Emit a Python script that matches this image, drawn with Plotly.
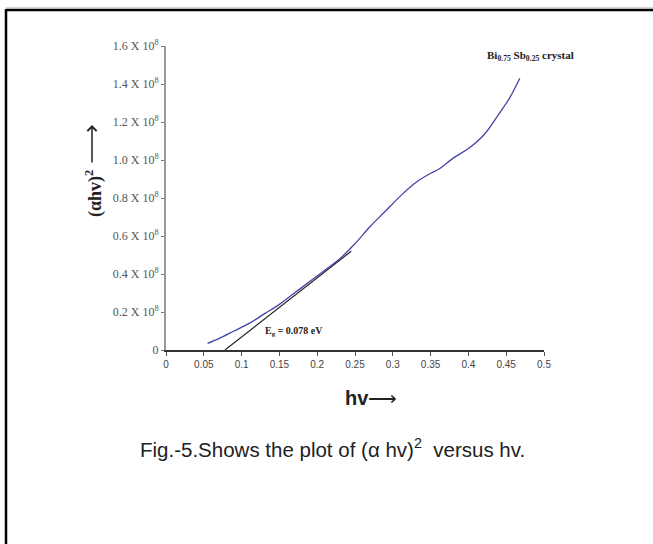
import plotly.graph_objects as go

# Data
hv = [0.055, 0.07, 0.09, 0.11, 0.13, 0.15, 0.17, 0.19, 0.21, 0.23, 0.25, 0.27,
      0.29, 0.31, 0.33, 0.35, 0.36, 0.38, 0.40, 0.42, 0.44, 0.455, 0.468]
ahv2 = [0.035, 0.06, 0.10, 0.14, 0.19, 0.24, 0.30, 0.36, 0.42, 0.48, 0.56, 0.65,
        0.73, 0.81, 0.88, 0.93, 0.95, 1.01, 1.06, 1.13, 1.24, 1.33, 1.43]
fit_x = [0.078, 0.245]
fit_y = [0.0, 0.52]
x_ticks = [0, 0.05, 0.1, 0.15, 0.2, 0.25, 0.3, 0.35, 0.4, 0.45, 0.5]
x_ticklabels = ["0", "0.05", "0.1", "0.15", "0.2", "0.25", "0.3", "0.35", "0.4", "0.45", "0.5"]
y_ticks = [0, 0.2, 0.4, 0.6, 0.8, 1.0, 1.2, 1.4, 1.6]
y_ticklabels = ["0"] + [f"{v:.1f} X 10<sup>8</sup>" for v in y_ticks[1:]]

W, H = 653, 544
L, R, T, B = 166, 544, 46, 350

fig = go.Figure()
fig.add_trace(go.Scatter(x=fit_x, y=fit_y, mode="lines",
                         line=dict(color="#222222", width=1.2), showlegend=False))
fig.add_trace(go.Scatter(x=hv, y=ahv2, mode="lines", line_shape="spline",
                         line=dict(color="#4444a8", width=1.3), showlegend=False))

def px(x):
    return (x - L) / (R - L)

def py(y):
    return (B - y) / (B - T)

fig.update_layout(
    width=W, height=H,
    margin=dict(l=L, r=W - R, t=T, b=H - B, autoexpand=False),
    paper_bgcolor="white", plot_bgcolor="white",
    xaxis=dict(range=[0, 0.5], tickmode="array", tickvals=x_ticks, ticktext=x_ticklabels,
               showgrid=False, zeroline=False, showline=True, linecolor="#333333", linewidth=1.5,
               ticks="outside", ticklen=4, tickcolor="#555555",
               tickfont=dict(family="Liberation Sans", size=10, color="#444444"), fixedrange=True),
    yaxis=dict(range=[0, 1.6], tickmode="array", tickvals=y_ticks, ticktext=y_ticklabels,
               showgrid=False, zeroline=False, showline=True, linecolor="#999999", linewidth=2,
               ticks="outside", ticklen=3, tickcolor="#777777",
               tickfont=dict(family="Liberation Serif", size=12, color="#555555"), fixedrange=True),
    shapes=[
        dict(type="line", xref="paper", yref="paper", x0=px(6), x1=px(660), y0=py(10), y1=py(10),
             line=dict(color="black", width=2.5)),
        dict(type="line", xref="paper", yref="paper", x0=px(6), x1=px(660), y0=py(8), y1=py(8),
             line=dict(color="#aaaaaa", width=1)),
        dict(type="line", xref="paper", yref="paper", x0=px(6), x1=px(6), y0=py(9), y1=py(560),
             line=dict(color="black", width=2.5)),
    ],
    annotations=[
        dict(x=px(294), y=py(340), xref="paper", yref="paper", showarrow=False,
             text="<b>E<sub>g</sub> = 0.078 eV</b>",
             font=dict(family="Liberation Serif", size=10, color="#222222")),
        dict(x=px(485), y=py(47), xref="paper", yref="paper", showarrow=False, xanchor="left",
             text="<b>Bi<sub>0.75</sub> Sb<sub>0.25</sub> crystal</b>",
             font=dict(family="Liberation Serif", size=11, color="#222222")),
        dict(x=px(80), y=py(194), xref="paper", yref="paper", showarrow=False, textangle=-90,
             text="<b>(αhv)<sup>2</sup></b>",
             font=dict(family="Liberation Serif", size=18, color="#222222")),
        dict(x=px(92), y=py(125), ax=0, ay=39, xref="paper", yref="paper",
             showarrow=True, text="",
             arrowhead=4, arrowsize=1.2, arrowwidth=1.5, arrowcolor="#222222"),
        dict(x=px(371), y=py(411), xref="paper", yref="paper", showarrow=False,
             text="<b>hv</b>⟶",
             font=dict(family="Liberation Sans", size=20, color="#222222")),
        dict(x=px(332), y=py(463), xref="paper", yref="paper", showarrow=False,
             text="Fig.-5.Shows the plot of (α hv)<sup>2</sup>  versus hv.",
             font=dict(family="Liberation Sans", size=20.5, color="#222222")),
    ],
)

fig.write_html("out.html", config={"displayModeBar": False},
               post_script="document.body.style.margin='0';")
